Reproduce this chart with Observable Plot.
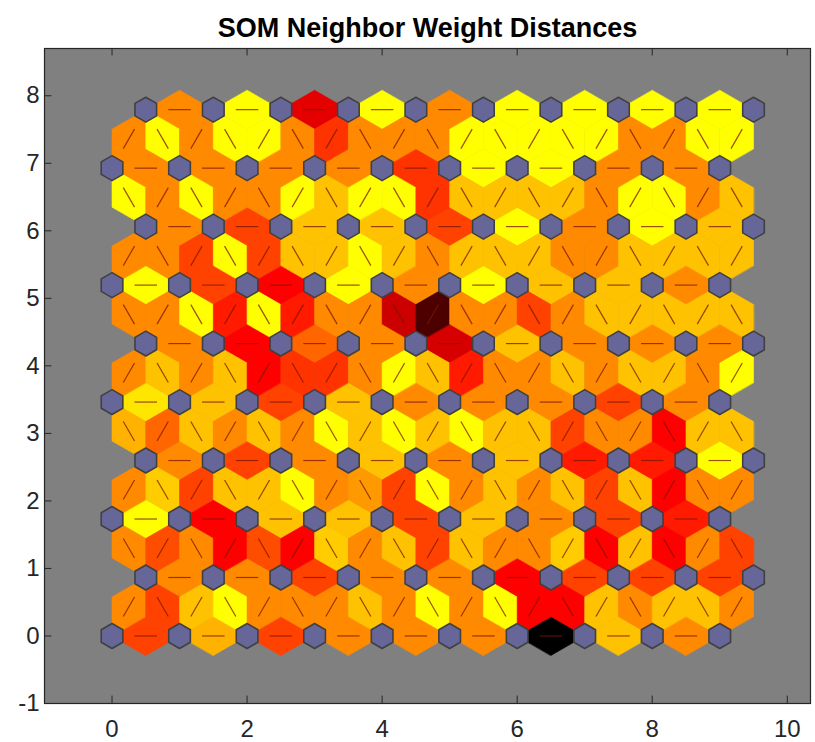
<!DOCTYPE html>
<html><head><meta charset="utf-8">
<script src="https://cdn.jsdelivr.net/npm/d3@7"></script>
<script src="https://cdn.jsdelivr.net/npm/@observablehq/plot@0.6"></script>
<style>body{margin:0;background:#fff;overflow:hidden}</style>
</head><body><div id="chart"></div>
<script>
const title = "SOM Neighbor Weight Distances";
const xTicks = [0, 2, 4, 6, 8, 10];
const yTicks = [-1, 0, 1, 2, 3, 4, 5, 6, 7, 8];
const gridCols = 10, gridRows = 10;

// normalized neighbor distances (0 = closest/yellow, 1 = farthest/black)
// horizontal neighbor pairs, row j (bottom row 0), left to right
const h0 = [0.37,0.15,0.37,0.23,0.23,0.23,1.00,0.12,0.23];
const h1 = [0.23,0.23,0.37,0.23,0.23,0.50,0.37,0.37,0.37];
const h2 = [0.00,0.50,0.12,0.12,0.37,0.12,0.23,0.37,0.45];
const h3 = [0.23,0.37,0.23,0.12,0.23,0.12,0.45,0.45,0.00];
const h4 = [0.05,0.12,0.37,0.12,0.23,0.23,0.23,0.37,0.23];
const h5 = [0.23,0.50,0.30,0.23,0.58,0.12,0.23,0.23,0.23];
const h6 = [0.00,0.37,0.50,0.00,0.23,0.00,0.12,0.12,0.23];
const h7 = [0.23,0.37,0.12,0.12,0.37,0.00,0.23,0.00,0.12];
const h8 = [0.23,0.23,0.23,0.23,0.40,0.00,0.00,0.23,0.23];
const h9 = [0.23,0.00,0.55,0.00,0.23,0.00,0.00,0.00,0.00];
// diagonal neighbor pairs between row j and row j+1, left to right
const d0 = [0.23,0.37,0.12,0.00,0.23,0.23,0.23,0.12,0.23,0.00,0.23,0.00,0.50,0.50,0.12,0.23,0.12,0.12,0.23];
const d1 = [0.23,0.35,0.23,0.50,0.35,0.50,0.10,0.23,0.12,0.37,0.12,0.23,0.23,0.10,0.50,0.12,0.50,0.23,0.37];
const d2 = [0.23,0.10,0.37,0.12,0.12,0.00,0.23,0.20,0.37,0.00,0.23,0.12,0.23,0.12,0.37,0.12,0.50,0.23,0.23];
const d3 = [0.15,0.30,0.12,0.23,0.12,0.23,0.00,0.12,0.00,0.12,0.00,0.12,0.12,0.37,0.23,0.23,0.50,0.12,0.12];
const d4 = [0.23,0.12,0.23,0.12,0.50,0.40,0.40,0.23,0.00,0.12,0.45,0.23,0.23,0.12,0.23,0.12,0.12,0.23,0.00];
const d5 = [0.23,0.23,0.00,0.45,0.00,0.45,0.23,0.23,0.60,0.85,0.23,0.23,0.37,0.23,0.12,0.12,0.12,0.12,0.12];
const d6 = [0.23,0.23,0.37,0.00,0.37,0.12,0.12,0.00,0.12,0.23,0.12,0.12,0.12,0.23,0.23,0.12,0.12,0.12,0.12];
const d7 = [0.00,0.23,0.00,0.23,0.23,0.00,0.12,0.00,0.00,0.40,0.12,0.12,0.12,0.12,0.23,0.00,0.00,0.23,0.12];
const d8 = [0.23,0.00,0.23,0.00,0.00,0.23,0.40,0.23,0.23,0.23,0.00,0.00,0.00,0.00,0.00,0.23,0.23,0.00,0.00];

const hRows = [h0,h1,h2,h3,h4,h5,h6,h7,h8,h9];
const dRows = [d0,d1,d2,d3,d4,d5,d6,d7,d8];

// hexagonal topology
const rowStep = Math.sqrt(0.75);
const pos = (i, j) => [i + 0.5 * (j % 2), j * rowStep];
const neurons = [];
for (let j = 0; j < gridRows; j++) for (let i = 0; i < gridCols; i++) neurons.push(pos(i, j));

const edges = [];
hRows.forEach((row, j) => row.forEach((d, i) => edges.push({a: pos(i, j), b: pos(i + 1, j), d})));
dRows.forEach((row, j) => row.forEach((d, k) => {
  const m = 0.25 + 0.5 * k;
  const lowOff = 0.5 * (j % 2);
  let lx = m - 0.25, ux = m + 0.25;
  if (Math.abs(((lx - lowOff) % 1 + 1) % 1) > 1e-6) { lx = m + 0.25; ux = m - 0.25; }
  edges.push({a: [lx, j * rowStep], b: [ux, (j + 1) * rowStep], d});
}));

// patch polygons (rhombus between the two neurons and the adjacent triangle centres)
const half = 1 / (2 * Math.sqrt(3));
const patchPts = [];
edges.forEach((e, id) => {
  const mx = (e.a[0] + e.b[0]) / 2, my = (e.a[1] + e.b[1]) / 2;
  const vx = e.b[0] - e.a[0], vy = e.b[1] - e.a[1];
  const L = Math.hypot(vx, vy);
  const nx = -vy / L, ny = vx / L;
  [[e.a[0], e.a[1]], [mx + nx * half, my + ny * half], [e.b[0], e.b[1]], [mx - nx * half, my - ny * half]]
    .forEach(([x, y]) => patchPts.push({x, y, id, d: e.d}));
});
const links = edges.map(e => ({
  x1: e.a[0] + (e.b[0] - e.a[0]) / 3, y1: e.a[1] + (e.b[1] - e.a[1]) / 3,
  x2: e.a[0] + 2 * (e.b[0] - e.a[0]) / 3, y2: e.a[1] + 2 * (e.b[1] - e.a[1]) / 3
}));
// neuron hexagons
const hexScale = 0.32;
const hexX = [1, 0, -1, -1, 0, 1].map(v => v * 0.5 * hexScale);
const hexY = [1, 2, 1, -1, -2, -1].map(v => v * rowStep / 3 * hexScale);
const hexPts = [];
neurons.forEach(([cx, cy], id) => hexX.forEach((hx, k) => hexPts.push({x: cx + hx, y: cy + hexY[k], id})));

const W = 815, H = 742;
const mL = 44, mT = 48, mB = 39, mR = 5;
const yMin = -1, yMax = 8.7;
const k = (H - mT - mB) / (yMax - yMin);
const xMin = -1, xMax = xMin + (W - mL - mR) / k;

const chart = Plot.plot({
  width: W, height: H,
  marginLeft: mL, marginRight: mR, marginTop: mT, marginBottom: mB,
  style: {fontFamily: "Arial, 'Liberation Sans', Helvetica, sans-serif", background: "#fff", color: "#262626"},
  x: {domain: [xMin, xMax], ticks: xTicks, tickFormat: d => d},
  y: {domain: [yMin, yMax], ticks: yTicks, tickFormat: d => d},
  color: {type: "linear", domain: [0, 0.5, 1], range: ["#ffff00", "#ff0000", "#000000"], interpolate: "rgb"},
  marks: [
    Plot.frame({fill: "#808080"}),
    Plot.line(patchPts, {x: "x", y: "y", z: "id", fill: "d", stroke: "d", strokeWidth: 0.6, curve: "linear-closed"}),
    Plot.link(links, {x1: "x1", y1: "y1", x2: "x2", y2: "y2", stroke: "#7a1500", strokeOpacity: 0.75, strokeWidth: 1.2}),
    Plot.line(hexPts, {x: "x", y: "y", z: "id", fill: "#666699", stroke: "#404040", strokeWidth: 1.6, curve: "linear-closed"}),
    Plot.ruleX(xTicks, {y1: yMin, y2: yMin + 0.11, stroke: "#262626"}),
    Plot.ruleX(xTicks, {y1: yMax, y2: yMax - 0.11, stroke: "#262626"}),
    Plot.ruleY(yTicks, {x1: xMin, x2: xMin + 0.11, stroke: "#262626"}),
    Plot.frame({stroke: "#262626", strokeWidth: 1.2}),
    Plot.axisX({ticks: xTicks, tickSize: 0, tickPadding: 16, fontSize: 24, tickFormat: d => d}),
    Plot.axisY({ticks: yTicks, tickSize: 0, tickPadding: 5, fontSize: 24, tickFormat: d => d}),
    Plot.text([title], {frameAnchor: "top", dy: -31, fontSize: 27, fontWeight: "bold", fill: "#000"})
  ]
});
document.getElementById("chart").appendChild(chart);
</script>
</body></html>
